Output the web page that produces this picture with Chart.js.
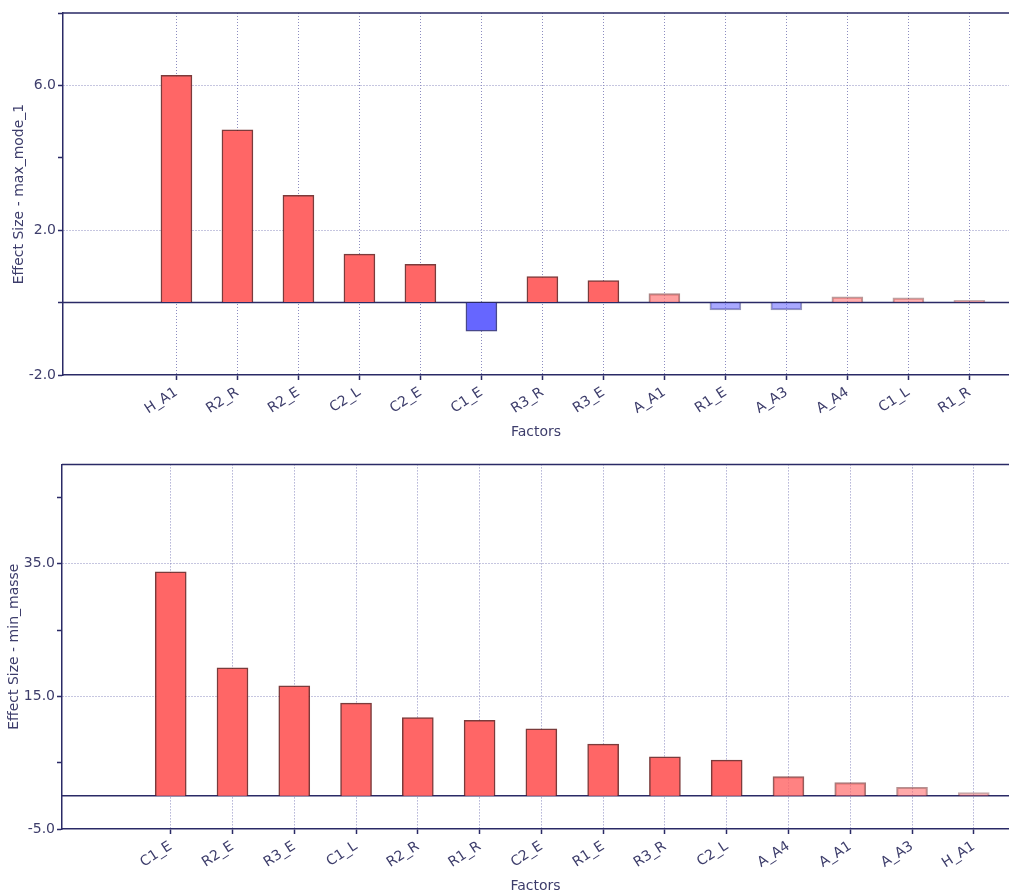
<!DOCTYPE html>
<html>
<head>
<meta charset="utf-8">
<script src="https://cdn.jsdelivr.net/npm/chart.js@4"></script>
<style>
  body { margin: 0; background: #fff; }
  canvas { position: absolute; left: 0; }
  #topChart { top: 0; }
  #bottomChart { top: 454px; }
</style>
</head>
<body>
<canvas id="topChart" width="1009" height="441"></canvas>
<canvas id="bottomChart" width="1009" height="441"></canvas>
<script>
// top chart: effect sizes on max_mode_1
const factorsTop = ['H_A1', 'R2_R', 'R2_E', 'C2_L', 'C2_E', 'C1_E', 'R3_R', 'R3_E', 'A_A1', 'R1_E', 'A_A3', 'A_A4', 'C1_L', 'R1_R'];
const effectsTop = [6.28, 4.77, 2.96, 1.34, 1.06, -0.79, 0.72, 0.61, 0.25, -0.2, -0.2, 0.16, 0.13, 0.06];

// bottom chart: effect sizes on min_masse
const factorsBottom = ['C1_E', 'R2_E', 'R3_E', 'C1_L', 'R2_R', 'R1_R', 'C2_E', 'R1_E', 'R3_R', 'C2_L', 'A_A4', 'A_A1', 'A_A3', 'H_A1'];
const effectsBottom = [33.8, 19.3, 16.6, 14.0, 11.8, 11.4, 10.1, 7.8, 5.9, 5.4, 2.9, 2.0, 1.3, 0.5];

const NAVY = '#2a2a66';
const TEXT = '#3d3d6b';
const GRID = '#8c8cc0';
const FONT = { family: 'DejaVu Sans', size: 14 };

// small effects are drawn paler
function barFill(v, full) {
    const a = 0.35 + 0.65 * Math.min(1, Math.abs(v) / full);
    return v < 0 ? `rgba(102, 102, 255, ${a})` : `rgba(255, 102, 102, ${a})`;
}
function barBorder(v, full) {
    const a = (0.35 + 0.65 * Math.min(1, Math.abs(v) / full)) * 0.85;
    return v < 0 ? `rgba(40, 40, 120, ${a})` : `rgba(100, 25, 25, ${a})`;
}

// zero line and top frame line
const framePlugin = {
    id: 'frame',
    beforeDatasetsDraw(chart) {
        const { ctx, chartArea, scales } = chart;
        const y0 = scales.y.getPixelForValue(0);
        ctx.save();
        ctx.strokeStyle = NAVY;
        ctx.lineWidth = 1.5;
        ctx.beginPath();
        ctx.moveTo(chartArea.left, y0);
        ctx.lineTo(chartArea.right, y0);
        ctx.moveTo(chartArea.left, chartArea.top);
        ctx.lineTo(chartArea.right, chartArea.top);
        ctx.stroke();
        ctx.restore();
    }
};

function makeChart(id, labels, values, yTitle, yMin, yMax, yStep, full, xMin, xMax, yWidth, padTop, titlePad) {
    const ctx = document.getElementById(id).getContext('2d');
    const isLabeled = v => (v - yMin) % (yStep * 2) === 0;
    return new Chart(ctx, {
        type: 'bar',
        data: {
            datasets: [{
                data: values.map((v, i) => ({ x: i, y: v })),
                backgroundColor: values.map(v => barFill(v, full)),
                borderColor: values.map(v => barBorder(v, full)),
                borderWidth: 1.5,
                barThickness: 31
            }]
        },
        options: {
            responsive: false,
            animation: false,
            layout: { padding: { top: padTop, right: 0, bottom: 0, left: 0 } },
            plugins: { legend: { display: false }, tooltip: { enabled: false } },
            scales: {
                x: {
                    type: 'linear',
                    offset: false,
                    min: xMin,
                    max: xMax,
                    afterBuildTicks: axis => { axis.ticks = labels.map((_, i) => ({ value: i })); },
                    afterFit: axis => { axis.height = 66; },
                    ticks: {
                        autoSkip: false,
                        minRotation: 33,
                        maxRotation: 33,
                        padding: 4,
                        color: TEXT,
                        font: FONT,
                        callback: v => labels[v]
                    },
                    grid: { offset: false, color: GRID, lineWidth: 1, tickLength: 5, tickColor: NAVY, tickWidth: 1.5 },
                    border: { display: true, color: NAVY, width: 1.5, dash: [1, 2] },
                    title: { display: true, text: 'Factors', color: TEXT, font: FONT, padding: { top: 0, bottom: 0 } }
                },
                y: {
                    min: yMin,
                    max: yMax,
                    afterBuildTicks: axis => {
                        const t = [];
                        for (let v = yMin; v <= yMax; v += yStep) t.push({ value: v });
                        axis.ticks = t;
                    },
                    afterFit: axis => { axis.width = yWidth; },
                    ticks: {
                        color: TEXT,
                        font: FONT,
                        padding: 2,
                        callback: v => isLabeled(v) ? v.toFixed(1) : ''
                    },
                    grid: {
                        color: c => {
                            const v = c.tick ? c.tick.value : null;
                            if (v !== null && v !== yMin && isLabeled(v)) return GRID;
                            return 'rgba(0,0,0,0)';
                        },
                        lineWidth: 1,
                        tickLength: 5,
                        tickColor: NAVY,
                        tickWidth: 1.5
                    },
                    border: { display: true, color: NAVY, width: 1.5, dash: [1, 2] },
                    title: { display: true, text: yTitle, color: TEXT, font: FONT, padding: { top: titlePad, bottom: 0 } }
                }
            }
        },
        plugins: [framePlugin]
    });
}

makeChart('topChart', factorsTop, effectsTop, 'Effect Size - max_mode_1', -2, 8, 2, 0.6, -1.86, 13.65, 63, 13, 11);
makeChart('bottomChart', factorsBottom, effectsBottom, 'Effect Size - min_masse', -5, 50, 10, 4, -1.76, 13.57, 62, 9, 6);
</script>
</body>
</html>
